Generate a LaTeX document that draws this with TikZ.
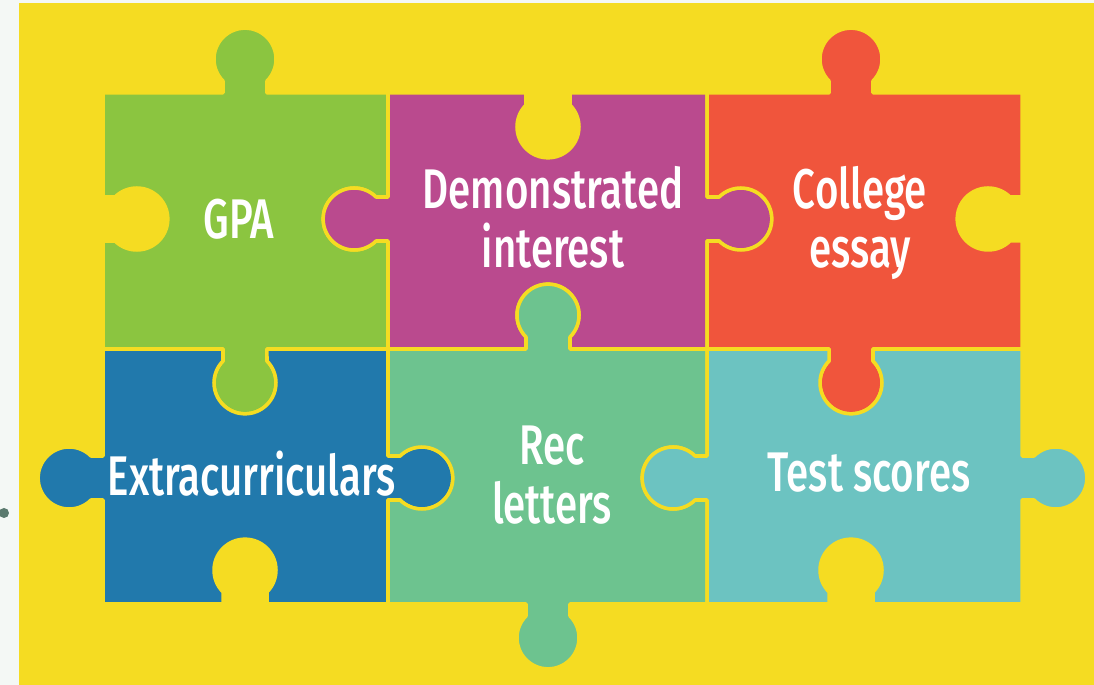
\documentclass[tikz,border=0pt]{standalone}
\usepackage{xcolor}
\usepackage{fontspec}
\setmainfont{Fira Sans}[FakeStretch=0.72, BoldFont={Fira Sans Medium}]
\usepackage{tikz}
\usetikzlibrary{calc}
\definecolor{Puzzle-bg}{RGB}{244,248,245}
\definecolor{Puzzle-Y}{RGB}{245,220,34}
\definecolor{Puzzle-A}{RGB}{139,197, 64}
\definecolor{Puzzle-B}{RGB}{186, 74,142}
\definecolor{Puzzle-C}{RGB}{240, 85, 60}
\definecolor{Puzzle-D}{RGB}{ 33,121,172}
\definecolor{Puzzle-E}{RGB}{109,195,143}
\definecolor{Puzzle-F}{RGB}{108,195,193}
\definecolor{Puzzle-dot}{RGB}{ 90,122,110}
\tikzstyle{p}=[draw=Puzzle-Y,line width=1pt,line join=round]
\tikzstyle{t}=[text=white,align=center,inner sep=0pt,font=\fontsize{15.9}{16.8}\selectfont\bfseries]
\tikzset{
  knob/.style 2 args={insert path={-- ($(#2)+(#1+180:0.22)$) -- ++(#1+90:0.12)
      arc[start angle=#1+224.8, end angle=#1-44.8, radius=0.31] -- ++(#1-90:0.12)}},
  hole/.style 2 args={insert path={-- ($(#2)+(#1+180:0.22)$) -- ++(#1-90:0.12)
      arc[start angle=#1+135.2, end angle=#1+404.8, radius=0.31] -- ++(#1+90:0.12)}}
}

\begin{document}
\begin{tikzpicture}

\useasboundingbox (0,0) rectangle (10.94,-6.85);
\fill[Puzzle-bg] (0,0) rectangle (10.94,-6.85);
\fill[Puzzle-Y] (0.19,-0.03) rectangle (10.94,-6.85);
\fill[Puzzle-dot] (0.04,-5.13) circle (0.05);

% Pieces
\path[p,fill=Puzzle-A] (1.03,-0.93) [knob={0}{2.45,-0.93}] -- (3.88,-0.93) [hole={-90}{3.88,-2.19}]
      -- (3.88,-3.49) [knob={180}{2.45,-3.49}] -- (1.03,-3.49) [hole={90}{1.03,-2.19}] -- cycle;
\path[p,fill=Puzzle-B] (3.88,-0.93) [hole={0}{5.48,-0.93}] -- (7.07,-0.93) [knob={-90}{7.07,-2.19}]
      -- (7.07,-3.49) [hole={180}{5.48,-3.49}] -- (3.88,-3.49) [knob={90}{3.88,-2.19}] -- cycle;
\path[p,fill=Puzzle-C] (7.07,-0.93) [knob={0}{8.51,-0.93}] -- (10.22,-0.93) [hole={-90}{10.22,-2.19}]
      -- (10.22,-3.49) [knob={180}{8.51,-3.49}] -- (7.07,-3.49) [hole={90}{7.07,-2.19}] -- cycle;
\path[p,fill=Puzzle-D] (1.03,-3.49) [hole={0}{2.45,-3.49}] -- (3.88,-3.49) [knob={-90}{3.88,-4.78}]
      -- (3.88,-6.04) [hole={180}{2.45,-6.04}] -- (1.03,-6.04) [knob={90}{1.03,-4.78}] -- cycle;
\path[p,fill=Puzzle-E] (3.88,-3.49) [knob={0}{5.48,-3.49}] -- (7.07,-3.49) [hole={-90}{7.07,-4.78}]
      -- (7.07,-6.04) [knob={180}{5.48,-6.04}] -- (3.88,-6.04) [hole={90}{3.88,-4.78}] -- cycle;
\path[p,fill=Puzzle-F] (7.07,-3.49) [hole={0}{8.51,-3.49}] -- (10.22,-3.49) [knob={-90}{10.22,-4.78}]
      -- (10.22,-6.04) [hole={180}{8.51,-6.04}] -- (7.07,-6.04) [knob={90}{7.07,-4.78}] -- cycle;

% Labels
\node[t] (gpa)     at (2.39,-2.19) {GPA};
\node[t] (interest) at (5.53,-2.17) {Demonstrated\\interest};
\node[t] (essay)   at (8.60,-2.23) {College\\essay};
\node[t] (extra)   at (2.52,-4.74) {Extracurriculars};
\node[t] (letters) at (5.52,-4.75) {Rec\\letters};
\node[t] (scores)  at (8.69,-4.73) {Test scores};

\end{tikzpicture}
\end{document}
